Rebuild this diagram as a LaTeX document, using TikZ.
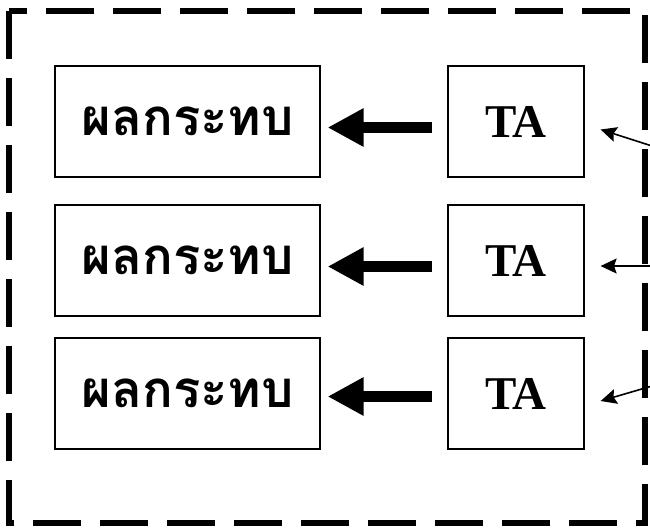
\documentclass[tikz,border=0pt]{standalone}
\usepackage{fontspec}
\setmainfont{Liberation Serif}
\newfontfamily\thaifont[Script=Thai]{Loma}
\usetikzlibrary{arrows.meta}
\begin{document}
\begin{tikzpicture}[x=1pt,y=-1pt,
  effbox/.style={draw,line width=1.2pt,minimum width=265pt,minimum height=111pt,inner sep=0pt,font=\thaifont\bfseries\fontsize{51}{60}\selectfont},
  tabox/.style={draw,line width=1.2pt,minimum width=136pt,minimum height=111pt,inner sep=0pt,font=\bfseries\fontsize{47}{56}\selectfont},
  bigarrow/.style={line width=11pt,-{Triangle[length=36pt,width=36pt]}},
  smallarrow/.style={line width=1.6pt,-{Stealth[length=16pt,width=15pt,inset=2.5pt]}},
  frame/.style={line width=5.5pt,dash pattern=on 48pt off 19pt}]
\useasboundingbox (0,0) rectangle (650,528);
\draw[frame] (9,11) rectangle (645,523);
\node[effbox] (e1) at (187.5,121.5) {ผลกระทบ};
\node[effbox] (e2) at (187.5,260.5) {ผลกระทบ};
\node[effbox] (e3) at (187.5,393.5) {ผลกระทบ};
\node[tabox] (t1) at (516,121.5) {TA};
\node[tabox] (t2) at (516,260.5) {TA};
\node[tabox] (t3) at (516,393.5) {TA};
\draw[bigarrow] ([yshift=-6pt,xshift=-15pt]t1.west) -- ([yshift=-6pt,xshift=7pt]e1.east);
\draw[bigarrow] ([yshift=-6pt,xshift=-15pt]t2.west) -- ([yshift=-6pt,xshift=7pt]e2.east);
\draw[bigarrow] ([yshift=-3pt,xshift=-15pt]t3.west) -- ([yshift=-3pt,xshift=7pt]e3.east);
\coordinate (s1) at (652,146);
\coordinate (s2) at (652,266);
\coordinate (s3) at (652,386);
\draw[smallarrow] (s1) -- ([xshift=16pt,yshift=-8pt]t1.east);
\draw[smallarrow] (s2) -- ([xshift=16pt,yshift=-5.5pt]t2.east);
\draw[smallarrow] (s3) -- ([xshift=16pt,yshift=-7.5pt]t3.east);
\end{tikzpicture}
\end{document}
